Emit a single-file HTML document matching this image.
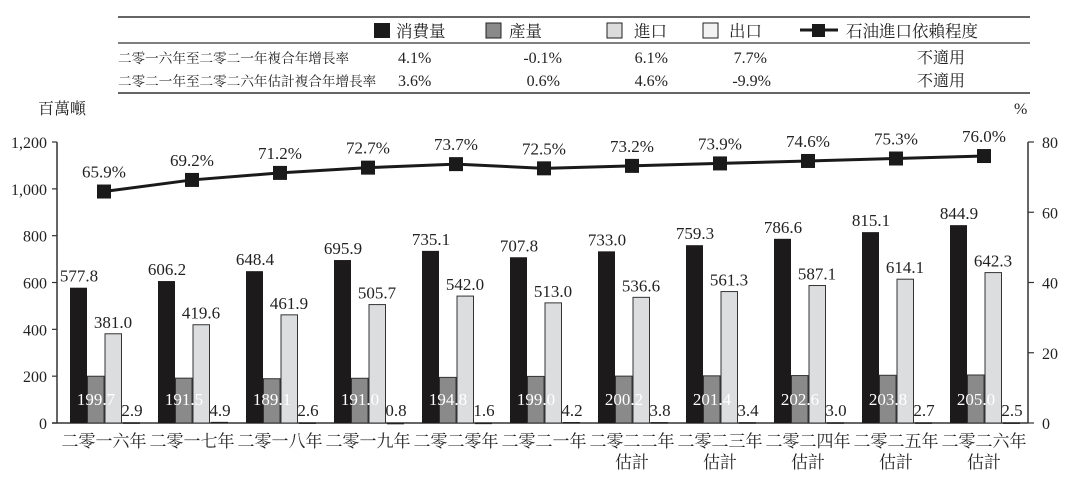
<!DOCTYPE html><html><head><meta charset="utf-8"><style>
body{margin:0;background:#fff;}
svg text{font-family:"Liberation Serif","Noto Serif CJK SC",serif;fill:#222;}
</style></head><body>
<svg width="1080" height="478" viewBox="0 0 1080 478" xmlns="http://www.w3.org/2000/svg">
<line x1="118" y1="17" x2="1030" y2="17" stroke="#333" stroke-width="1.5"/>
<line x1="118" y1="43" x2="1030" y2="43" stroke="#333" stroke-width="1.2"/>
<line x1="118" y1="93" x2="1030" y2="93" stroke="#333" stroke-width="1.5"/>
<g font-size="16.5">
<rect x="374" y="23" width="16" height="15" fill="#1a1a1a"/><text x="396" y="37">消費量</text>
<rect x="486" y="23" width="15" height="15" fill="#8a8a8a" stroke="#222"/><text x="509" y="37">產量</text>
<rect x="607" y="23" width="15" height="15" fill="#dcdcdc" stroke="#222"/><text x="634" y="37">進口</text>
<rect x="703" y="23" width="15" height="15" fill="#f2f2f2" stroke="#222"/><text x="729" y="37">出口</text>
<line x1="800" y1="30" x2="838" y2="30" stroke="#1a1a1a" stroke-width="3"/><rect x="812" y="24" width="13" height="13" fill="#1a1a1a"/><text x="846" y="37">石油進口依賴程度</text>
</g>
<g font-size="13.6">
<text x="118" y="63">二零一六年至二零二一年複合年增長率</text>
<text x="118" y="86">二零二一年至二零二六年估計複合年增長率</text>
</g>
<g font-size="16">
<text x="398" y="63">4.1%</text><text x="398" y="86">3.6%</text>
<text x="562" y="63" text-anchor="end">-0.1%</text><text x="560" y="86" text-anchor="end">0.6%</text>
<text x="668" y="63" text-anchor="end">6.1%</text><text x="668" y="86" text-anchor="end">4.6%</text>
<text x="767" y="63" text-anchor="end">7.7%</text><text x="771" y="86" text-anchor="end">-9.9%</text>
<text x="965" y="63" text-anchor="end">不適用</text><text x="965" y="86" text-anchor="end">不適用</text>
</g>
<text x="38" y="114" font-size="16">百萬噸</text>
<text x="1014" y="114" font-size="16">%</text>
<line x1="57" y1="142" x2="57" y2="423" stroke="#333" stroke-width="1.5"/>
<line x1="1028" y1="142" x2="1028" y2="423" stroke="#333" stroke-width="1.5"/>
<line x1="52" y1="423" x2="1028" y2="423" stroke="#333" stroke-width="1.5"/>
</svg>
<script>
const ns="http://www.w3.org/2000/svg",s=document.querySelector('svg');
function el(t,a,txt){const e=document.createElementNS(ns,t);for(const k in a)e.setAttribute(k,a[k]);if(txt!=null)e.textContent=txt;s.appendChild(e);return e;}
const Y=v=>423-v*281/1200, P=v=>423-v*281/80;
for(let i=0;i<=6;i++){const y=423-i*46.83;el('line',{x1:52,y1:y,x2:57,y2:y,stroke:'#333','stroke-width':1.2});el('text',{x:47,y:y+6,'font-size':16,'text-anchor':'end'},(i*200).toLocaleString('en-US'));}
for(let i=0;i<=4;i++){const y=423-i*70.25;el('line',{x1:1028,y1:y,x2:1034,y2:y,stroke:'#333','stroke-width':1.2});el('text',{x:1042,y:y+6,'font-size':16},String(i*20));}
const c=[577.8,606.2,648.4,695.9,735.1,707.8,733.0,759.3,786.6,815.1,844.9],
p=[199.7,191.5,189.1,191.0,194.8,199.0,200.2,201.4,202.6,203.8,205.0],
m=[381.0,419.6,461.9,505.7,542.0,513.0,536.6,561.3,587.1,614.1,642.3],
e=[2.9,4.9,2.6,0.8,1.6,4.2,3.8,3.4,3.0,2.7,2.5],
r=[65.9,69.2,71.2,72.7,73.7,72.5,73.2,73.9,74.6,75.3,76.0],
yrs=['二零一六年','二零一七年','二零一八年','二零一九年','二零二零年','二零二一年','二零二二年','二零二三年','二零二四年','二零二五年','二零二六年'];
let pts=[];
for(let i=0;i<11;i++){const x=70+88*i;
el('rect',{x:x,y:Y(c[i]),width:17,height:423-Y(c[i]),fill:'#1c1a1b'});
el('rect',{x:x+17.5,y:Y(p[i]),width:16.5,height:423-Y(p[i]),fill:'#8a8a8a',stroke:'#333','stroke-width':1});
el('rect',{x:x+35,y:Y(m[i]),width:16.5,height:423-Y(m[i]),fill:'#dcdddf',stroke:'#333','stroke-width':1});
el('rect',{x:x+53,y:Y(e[i]),width:17,height:Math.max(1.5,423-Y(e[i])),fill:'#222'});
el('text',{x:x+9,y:Y(c[i])-6,'font-size':17,'text-anchor':'middle'},c[i].toFixed(1));
el('text',{x:x+26,y:405,'font-size':17,'text-anchor':'middle',style:'fill:#fff'},p[i].toFixed(1));
el('text',{x:x+43,y:Y(m[i])-6,'font-size':17,'text-anchor':'middle'},m[i].toFixed(1));
el('text',{x:x+62,y:416,'font-size':17,'text-anchor':'middle'},e[i].toFixed(1));
el('text',{x:x+34,y:447,'font-size':17,'text-anchor':'middle'},yrs[i]);
if(i>=6)el('text',{x:x+34,y:468,'font-size':17,'text-anchor':'middle'},'估計');
pts.push((x+34)+','+P(r[i]));
el('text',{x:x+34,y:P(r[i])-14,'font-size':17,'text-anchor':'middle'},r[i].toFixed(1)+'%');
}
el('polyline',{points:pts.join(' '),fill:'none',stroke:'#1a1a1a','stroke-width':3});
for(let i=0;i<11;i++){const x=70+88*i+34;el('rect',{x:x-7,y:P(r[i])-7,width:14,height:14,fill:'#1a1a1a'});}
</script>
</body></html>
